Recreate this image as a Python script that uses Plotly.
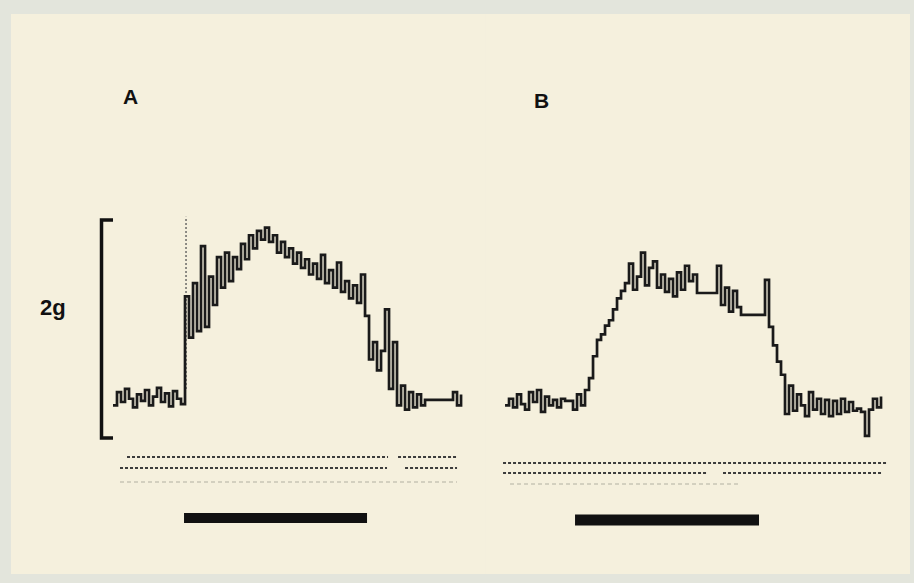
import numpy as np
import plotly.graph_objects as go

# Isometric tension records (g) sampled every 0.8 s; panel A and panel B
DT = 0.8
tension_a = [
    0.30, 0.42, 0.33, 0.45, 0.36, 0.28, 0.40, 0.34, 0.44, 0.30, 0.38, 0.46, 0.33, 0.41, 0.29, 0.43, 0.36, 0.31,
    1.30, 0.92, 1.42, 0.98, 1.76, 1.02, 1.48, 1.22, 1.66, 1.38,
    1.70, 1.44, 1.66, 1.55, 1.78, 1.64, 1.86, 1.74, 1.90, 1.82,
    1.93, 1.80, 1.86, 1.70, 1.80, 1.66, 1.74, 1.60, 1.70, 1.56,
    1.64, 1.50, 1.60, 1.46, 1.68, 1.42, 1.54, 1.38, 1.61, 1.34,
    1.44, 1.28, 1.40, 1.24, 1.50, 1.12, 0.72, 0.88, 0.62, 0.80,
    1.18, 0.45, 0.88, 0.30, 0.48, 0.26, 0.42, 0.28, 0.40, 0.30,
    0.35, 0.35, 0.35, 0.35, 0.35, 0.35, 0.35, 0.42, 0.30, 0.40,
]
tension_b = [
    0.30, 0.36, 0.28, 0.40, 0.31, 0.26, 0.42, 0.33, 0.44, 0.24, 0.38, 0.30, 0.35, 0.28, 0.36, 0.34, 0.34, 0.26, 0.40, 0.30, 0.44,
    0.55, 0.75, 0.90, 0.95, 1.03, 1.08, 1.18, 1.28, 1.35,
    1.42, 1.60, 1.36, 1.48, 1.70, 1.40, 1.56, 1.62, 1.38, 1.50, 1.34, 1.46, 1.30, 1.52, 1.36, 1.58, 1.44, 1.50,
    1.33, 1.33, 1.33, 1.33, 1.33, 1.58,
    1.22, 1.38, 1.16, 1.35, 1.20,
    1.13, 1.13, 1.13, 1.13, 1.13, 1.13,
    1.45, 1.02, 0.85, 0.70, 0.58,
    0.22, 0.48, 0.25, 0.40, 0.30, 0.20, 0.42, 0.26, 0.36, 0.22,
    0.35, 0.20, 0.34, 0.22, 0.36, 0.24, 0.33, 0.25, 0.27,
    0.24, 0.02, 0.26, 0.36, 0.28, 0.38,
]

# Stimulation periods (s)
stim_a = [14.2, 50.8]
stim_b = [14.0, 50.8]

# Event-marker rows beneath each record: (level in g, [(start, end), ...], style)
markers_a = [
    (-0.174, [(2.8, 55.0), (57.0, 68.8)], "dark"),
    (-0.275, [(1.4, 54.8), (58.4, 68.8)], "dark"),
    (-0.404, [(1.4, 68.8)], "faint"),
]
markers_b = [
    (-0.229, [(-0.4, 76.4)], "dark"),
    (-0.321, [(-0.4, 40.6), (43.6, 75.6)], "dark"),
    (-0.422, [(1.0, 47.0)], "faint"),
]

# Calibration bar (g)
calib = [0.0, 2.0]

PAPER = "#f5f0dd"
BORDER = "#e3e5dc"
INK = "#1a1a1a"

t_a = np.arange(len(tension_a)) * DT
t_b = np.arange(len(tension_b)) * DT

fig = go.Figure()


def marker_rows(rows, xaxis):
    for level, segs, style in rows:
        xs, ys = [], []
        for s0, s1 in segs:
            xs += [s0, s1, None]
            ys += [level, level, None]
        if style == "dark":
            line = dict(color="#3c3c3c", width=1.9, dash="3px,2px")
        else:
            line = dict(color="#c8c5b5", width=1.4, dash="4px,3px")
        fig.add_trace(go.Scatter(x=xs, y=ys, mode="lines", line=line,
                                 xaxis=xaxis, yaxis="y", hoverinfo="skip"))


marker_rows(markers_a, "x")
marker_rows(markers_b, "x2")

# fast pen excursion at stimulus onset in A
fig.add_trace(go.Scatter(x=[t_a[18] + 0.2, t_a[18] + 0.2], y=[0.45, 2.03], mode="lines",
                         line=dict(color="#555555", width=1.3, dash="2px,2px"),
                         xaxis="x", yaxis="y", hoverinfo="skip"))

# tension records
fig.add_trace(go.Scatter(x=t_a, y=tension_a, mode="lines", line=dict(color=INK, width=2.7, shape="hv"),
                         xaxis="x", yaxis="y", name="A"))
fig.add_trace(go.Scatter(x=t_b, y=tension_b, mode="lines", line=dict(color=INK, width=2.7, shape="hv"),
                         xaxis="x2", yaxis="y", name="B"))

# stimulus bars
fig.add_trace(go.Scatter(x=stim_a, y=[-0.734, -0.734], mode="lines", line=dict(color="#111111", width=10),
                         xaxis="x", yaxis="y", hoverinfo="skip"))
fig.add_trace(go.Scatter(x=stim_b, y=[-0.752, -0.752], mode="lines", line=dict(color="#111111", width=11),
                         xaxis="x2", yaxis="y", hoverinfo="skip"))

# 2 g calibration bracket
fig.add_trace(go.Scatter(x=[0.0, -2.3, -2.3, 0.0], y=[calib[1], calib[1], calib[0], calib[0]], mode="lines",
                         line=dict(color="#111111", width=3.5), xaxis="x", yaxis="y", hoverinfo="skip"))

font = dict(family="Liberation Sans, Arial, sans-serif", size=21, color="#111111")
fig.add_annotation(x=3.4, y=3.13, xref="x", yref="y", text="<b>A</b>", showarrow=False, font=font)
fig.add_annotation(x=7.2, y=3.10, xref="x2", yref="y", text="<b>B</b>", showarrow=False, font=font)
fig.add_annotation(x=-12.0, y=1.20, xref="x", yref="y", text="<b>2g</b>", showarrow=False,
                   font=dict(family="Liberation Sans, Arial, sans-serif", size=22, color="#111111"))

hidden = dict(visible=False, showgrid=False, zeroline=False, fixedrange=True)
fig.update_layout(
    width=914, height=583,
    margin=dict(l=11, r=4, t=14, b=9),
    paper_bgcolor=BORDER, plot_bgcolor=PAPER,
    showlegend=False,
    xaxis=dict(domain=[0, 0.5273], range=[-20.4, 74.4], **hidden),
    xaxis2=dict(domain=[0.5273, 1], range=[-4.0, 81.0], anchor="y", **hidden),
    yaxis=dict(range=[-1.248, 3.890], **hidden),
)

fig.write_html("out.html")
